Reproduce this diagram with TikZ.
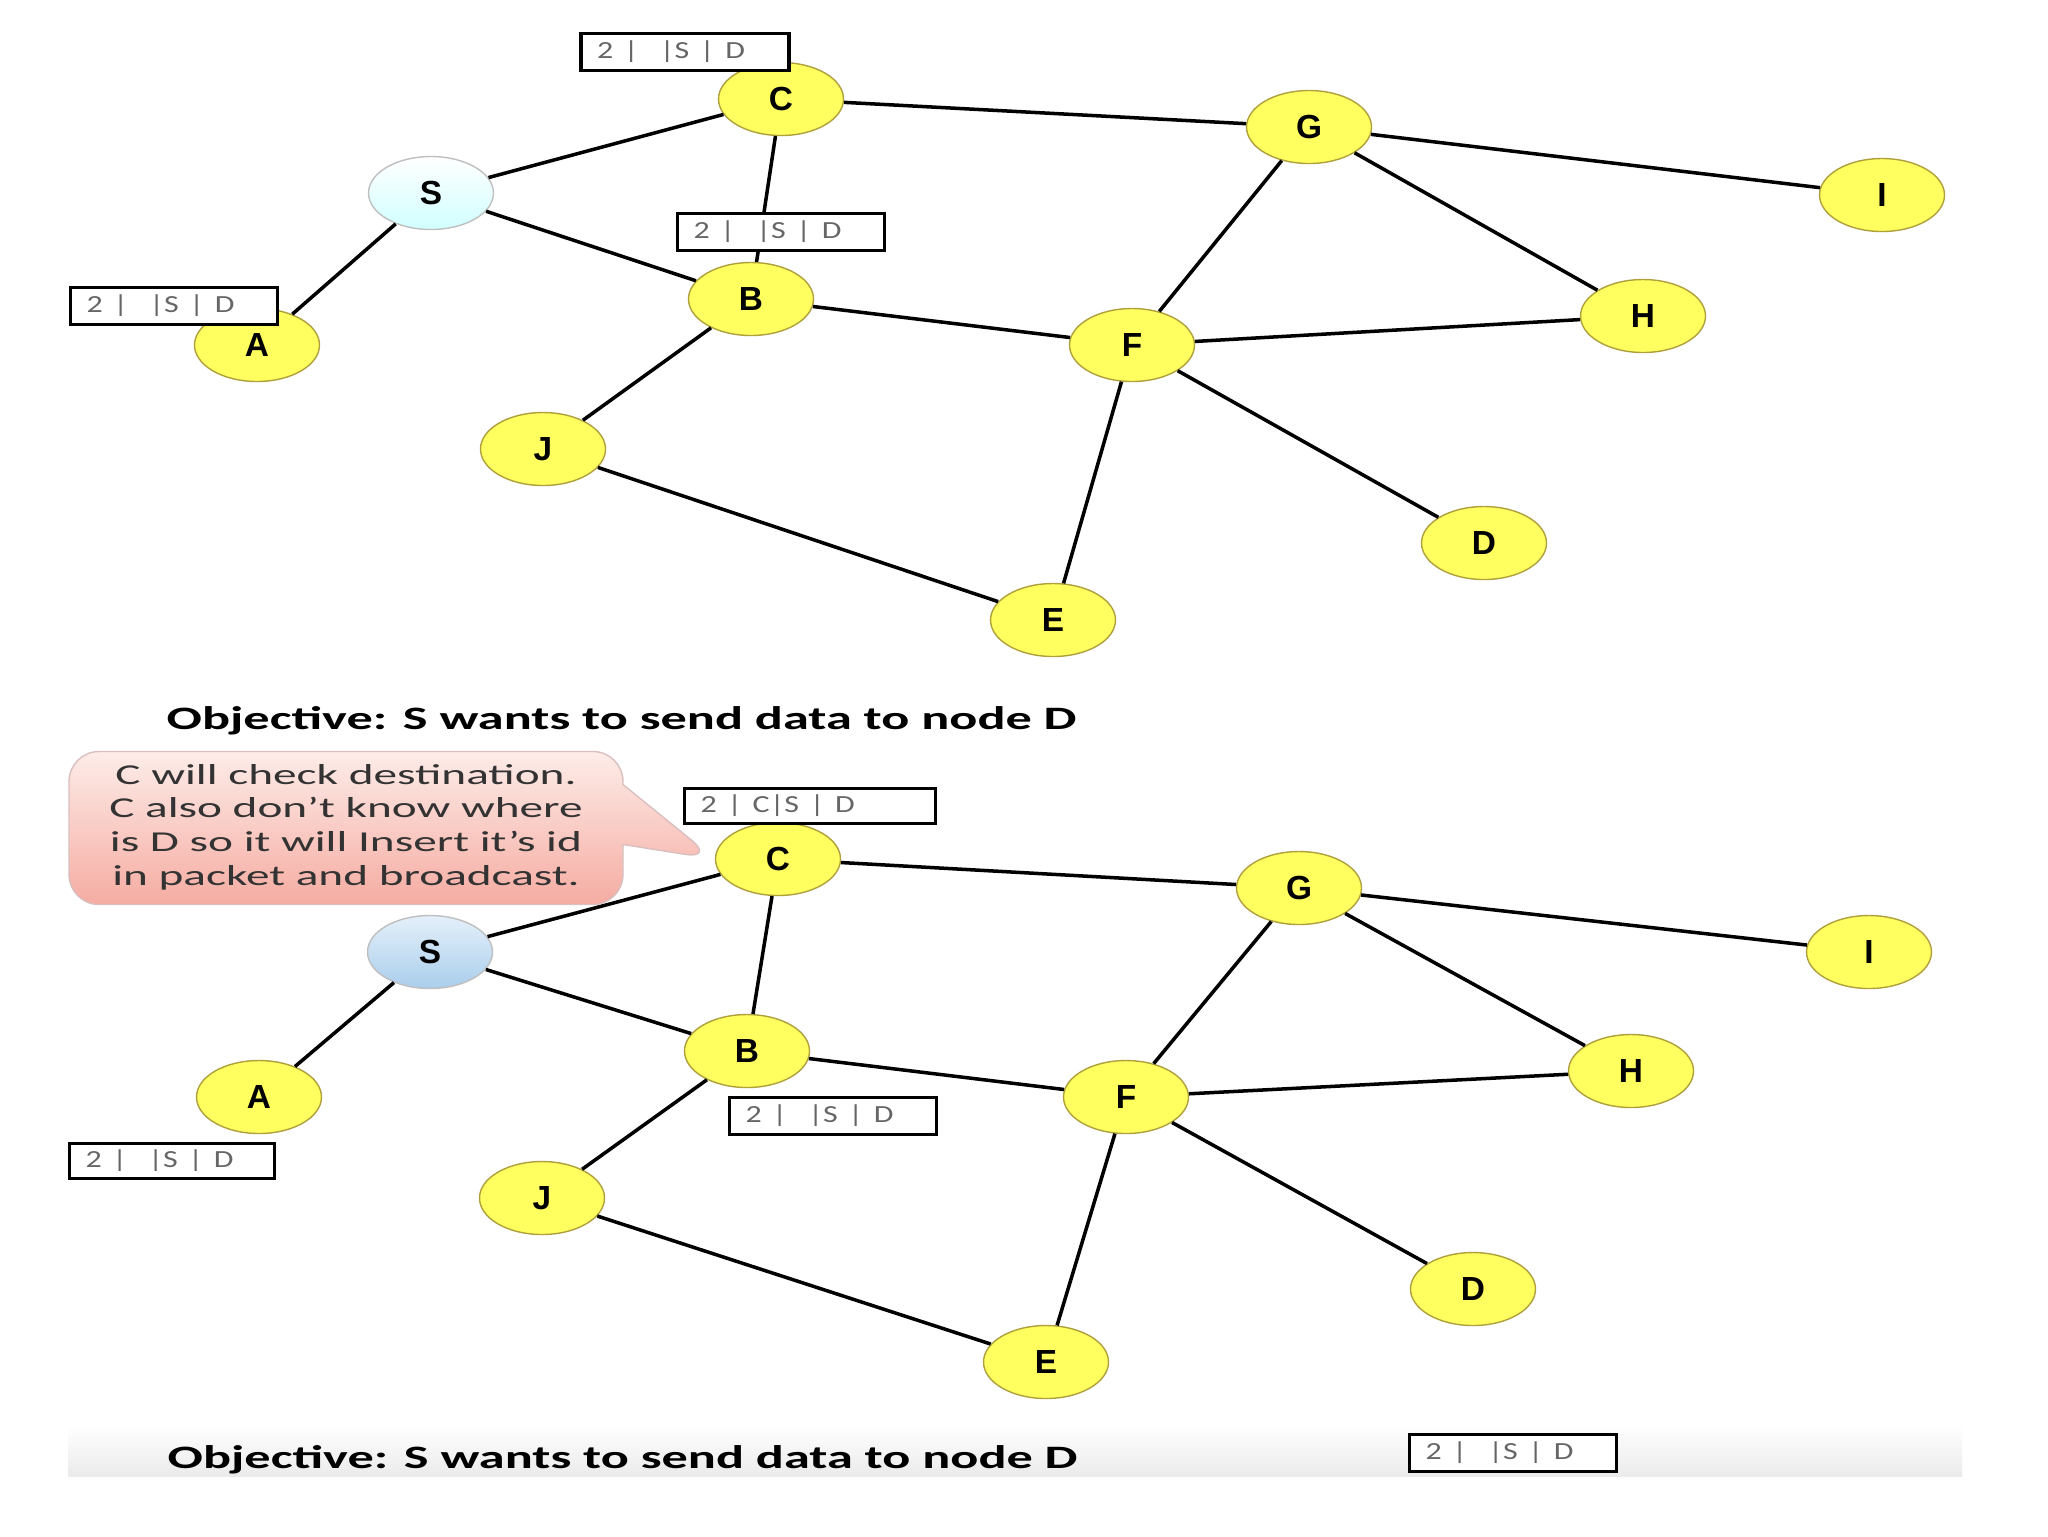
\documentclass[tikz,border=0pt]{standalone}
\usepackage{fontspec}
\setmainfont{Carlito}
\setsansfont{Liberation Sans}
\usetikzlibrary{shapes.geometric,shapes.callouts}
\definecolor{peerfill}{RGB}{255,255,95}
\definecolor{peerline}{RGB}{175,160,60}
\newcommand{\wide}[1]{\scalebox{1.3}[1]{#1}}
\tikzset{
  peer/.style={ellipse, draw=peerline, fill=peerfill, minimum width=12.5mm, minimum height=7.3mm, font=\sffamily\bfseries\fontsize{9.5}{10}\selectfont},
  source/.style={peer, draw=gray!50, fill=none, top color=white, bottom color=cyan!18},
  pkt/.style={draw, line width=0.9pt, fill=white, minimum height=3.7mm, inner xsep=1.6mm, inner ysep=0pt, align=left, text=black!60, font=\fontsize{7}{8}\selectfont},
  link/.style={line width=1pt},
  goal/.style={anchor=base west, inner sep=0pt}
}
\begin{document}
\begin{tikzpicture}[x=0.1mm, y=-0.1mm]
  \useasboundingbox (0,0) rectangle (2048,1536);
  % upper network
  \draw
    (781,99) node[peer] (C1){C}
    (1309,127) node[peer] (G1){G}
    (1882,195) node[peer] (I1){I}
    (431,193) node[source] (S1){S}
    (751,299) node[peer] (B1){B}
    (1643,316) node[peer] (H1){H}
    (1132,345) node[peer] (F1){F}
    (257,345) node[peer] (A1){A}
    (543,449) node[peer] (J1){J}
    (1484,543) node[peer] (D1){D}
    (1053,620) node[peer] (E1){E};
  \begin{scope}[link]
    \draw (S1) to (C1);
    \draw (S1) to (A1);
    \draw (S1) to (B1);
    \draw (C1) to (B1);
    \draw (C1) to (G1);
    \draw (G1) to (I1);
    \draw (G1) to (H1);
    \draw (G1) to (F1);
    \draw (B1) to (F1);
    \draw (B1) to (J1);
    \draw (F1) to (H1);
    \draw (F1) to (D1);
    \draw (F1) to (E1);
    \draw (J1) to (E1);
  \end{scope}
  \node[pkt, text width=17.6mm] (pC1) at (685,52) {\wide{2 |\ \ |S | D}};
  \node[pkt, text width=17.5mm] (pB1) at (781,232) {\wide{2 |\ \ |S | D}};
  \node[pkt, text width=17.5mm] (pA1) at (174,306) {\wide{2 |\ \ |S | D}};
  \node[goal] (obj1) at (166,729) {\scalebox{1.6}[1]{\fontsize{9.3}{11}\selectfont\bfseries Objective: S wants to send data to node D}};
  % lower network
  \draw
    (778,859) node[peer] (C2){C}
    (1299,888) node[peer] (G2){G}
    (1869,952) node[peer] (I2){I}
    (430,952) node[source, top color={rgb,255:red,228;green,240;blue,250}, bottom color={rgb,255:red,170;green,206;blue,236}] (S2){S}
    (747,1051) node[peer] (B2){B}
    (1631,1071) node[peer] (H2){H}
    (1126,1097) node[peer] (F2){F}
    (259,1097) node[peer] (A2){A}
    (542,1198) node[peer] (J2){J}
    (1473,1289) node[peer] (D2){D}
    (1046,1362) node[peer] (E2){E};
  \begin{scope}[link]
    \draw (S2) to (C2);
    \draw (S2) to (A2);
    \draw (S2) to (B2);
    \draw (C2) to (B2);
    \draw (C2) to (G2);
    \draw (G2) to (I2);
    \draw (G2) to (H2);
    \draw (G2) to (F2);
    \draw (B2) to (F2);
    \draw (B2) to (J2);
    \draw (F2) to (H2);
    \draw (F2) to (D2);
    \draw (F2) to (E2);
    \draw (J2) to (E2);
  \end{scope}
  \node[pkt, text width=21.9mm, minimum height=3.5mm] (pC2) at (810,806) {\wide{2 | C|S | D}};
  \node[pkt, text width=17.5mm] (pB2) at (833,1116) {\wide{2 |\ \ |S | D}};
  \node[pkt, text width=17.3mm, minimum height=3.5mm] (pA2) at (172,1161) {\wide{2 |\ \ |S | D}};
  \node[rectangle callout, rounded corners=3mm, draw=red!25!gray!40, top color={rgb,255:red,253;green,236;blue,232}, bottom color={rgb,255:red,245;green,172;blue,162}, minimum width=55.4mm, minimum height=15.3mm, inner sep=0pt, callout absolute pointer={(C2.west)}, callout pointer width=6mm, text=black!80, font=\fontsize{8.2}{9.6}\selectfont] (note) at (346,828)
    {\scalebox{1.64}[1]{\begin{tabular}{@{}c@{}}C will check destination.\\C also don’t know where\\is D so it will Insert it’s id\\in packet and broadcast.\end{tabular}}};
  \shade[top color=white, bottom color=gray!16] (68,1425) rectangle (1962,1476);
  \node[goal] (obj2) at (167,1468) {\scalebox{1.6}[1]{\fontsize{9.3}{11}\selectfont\bfseries Objective: S wants to send data to node D}};
  \node[pkt, text width=17.5mm] (pD2) at (1513,1453) {\wide{2 |\ \ |S | D}};
\end{tikzpicture}
\end{document}
